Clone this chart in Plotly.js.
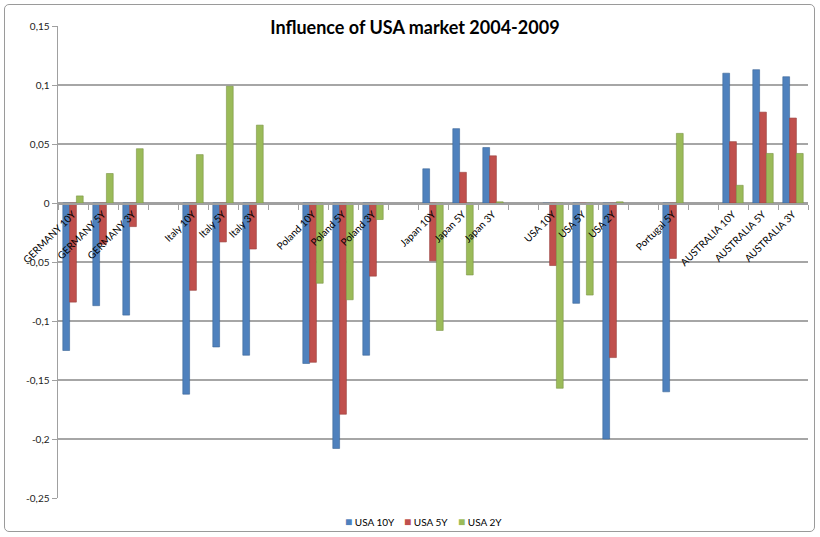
<!DOCTYPE html>
<html>
<head>
<meta charset="utf-8">
<script src="https://cdn.plot.ly/plotly-3.0.1.min.js"></script>
<style>
  html, body { margin: 0; padding: 0; background: #fff; }
  #wrap { position: relative; width: 820px; height: 537px; }
  #chart { width: 820px; height: 537px; }
  #frame { position: absolute; left: 4px; top: 4px; width: 809px; height: 526px;
           border: 1.5px solid #9a9a9a; border-radius: 5px; pointer-events: none; }
</style>
</head>
<body>
<div id="wrap"><div id="chart"></div><div id="frame"></div></div>
<script>
const labels = ['GERMANY 10Y','GERMANY 5Y','GERMANY 3Y','',
  'Italy 10Y','Italy 5Y','Italy 3Y','',
  'Poland 10Y','Poland 5Y','Poland 3Y','',
  'Japan 10Y','Japan 5Y','Japan 3Y','',
  'USA 10Y','USA 5Y','USA 2Y','',
  'Portugal 5Y','',
  'AUSTRALIA 10Y','AUSTRALIA 5Y','AUSTRALIA 3Y'];

const usa10 = [-0.125,-0.087,-0.095,null,-0.162,-0.122,-0.129,null,-0.136,-0.208,-0.129,null,
  0.029,0.063,0.047,null,-0.001,-0.085,-0.200,null,-0.160,null,0.110,0.113,0.107];
const usa5 = [-0.084,-0.035,-0.020,null,-0.074,-0.033,-0.039,null,-0.135,-0.179,-0.062,null,
  -0.049,0.026,0.040,null,-0.053,-0.001,-0.131,null,-0.047,null,0.052,0.077,0.072];
const usa2 = [0.006,0.025,0.046,null,0.041,0.099,0.066,null,-0.068,-0.082,-0.014,null,
  -0.108,-0.061,0.001,null,-0.157,-0.078,0.001,null,0.059,null,0.015,0.042,0.042];

const seriesNames = ['USA 10Y','USA 5Y','USA 2Y'];
const yTickVals = [0.15,0.1,0.05,0,-0.05,-0.1,-0.15,-0.2,-0.25];
const yTickText = ['0,15','0,1','0,05','0','-0,05','-0,1','-0,15','-0,2','-0,25'];

const xs = labels.map((_, i) => i);
const colors = ['#4F81BD','#C0504D','#9BBB59'];
const edges = ['#3A6596','#97403D','#7A9444'];
const data = [usa10, usa5, usa2].map((vals, k) => ({
  type: 'bar', name: seriesNames[k], x: xs, y: vals,
  marker: { color: colors[k], line: { color: edges[k], width: 0.6 } },
  hoverinfo: 'x+y', showlegend: false
}));

// compact legend entries (square + name), like the spreadsheet legend
const legendX = [343, 402, 456];
const legendAnns = seriesNames.map((name, k) => ({
  xref: 'paper', yref: 'paper',
  x: (legendX[k] - 58) / 750, y: (498 - 521) / 472,
  xanchor: 'left', yanchor: 'middle', showarrow: false,
  text: '<span style="color:' + colors[k] + ';font-size:12px">■</span> ' + name,
  font: { size: 10, color: '#000' }
}));

const yMin = -0.25, yMax = 0.15;
const layout = {
  width: 820, height: 537,
  margin: { l: 58, r: 12, t: 26, b: 39, autoexpand: false },
  paper_bgcolor: '#ffffff', plot_bgcolor: '#ffffff',
  font: { family: 'Lato, "Open Sans", sans-serif', size: 10, color: '#000' },
  title: { text: '<b>Influence of USA market 2004-2009</b>', xref: 'container', yref: 'container',
           x: 0.506, y: 0.948, xanchor: 'center', yanchor: 'middle',
           font: { family: 'Lato, "Open Sans", sans-serif', size: 18, color: '#000' } },
  barmode: 'group', bargap: 0.32, bargroupgap: 0,
  xaxis: {
    range: [-0.5, labels.length - 0.5],
    anchor: 'free', position: (0 - yMin) / (yMax - yMin),
    tickmode: 'array', tickvals: xs, ticktext: labels, tickangle: -45,
    ticks: '', showgrid: false, zeroline: false,
    showline: true, linecolor: '#a0a0a0', linewidth: 1.5,
    tickfont: { size: 10, color: '#000' },
    minor: { tickmode: 'linear', tick0: -0.5, dtick: 1, ticks: 'outside', ticklen: 5,
             tickcolor: '#a0a0a0', tickwidth: 1, showgrid: false },
    fixedrange: true
  },
  yaxis: {
    range: [yMin, yMax],
    tickmode: 'array', tickvals: yTickVals, ticktext: yTickText,
    ticks: 'outside', ticklen: 5, tickcolor: '#a0a0a0',
    showline: true, linecolor: '#a0a0a0', linewidth: 1.5,
    showgrid: true, gridcolor: '#a6a6a6', gridwidth: 1.5,
    zeroline: true, zerolinecolor: '#a0a0a0', zerolinewidth: 1.5,
    tickfont: { size: 10, color: '#222' },
    fixedrange: true
  },
  showlegend: false,
  annotations: legendAnns
};

Plotly.newPlot('chart', data, layout, { displayModeBar: false, staticPlot: true });
</script>
</body>
</html>
